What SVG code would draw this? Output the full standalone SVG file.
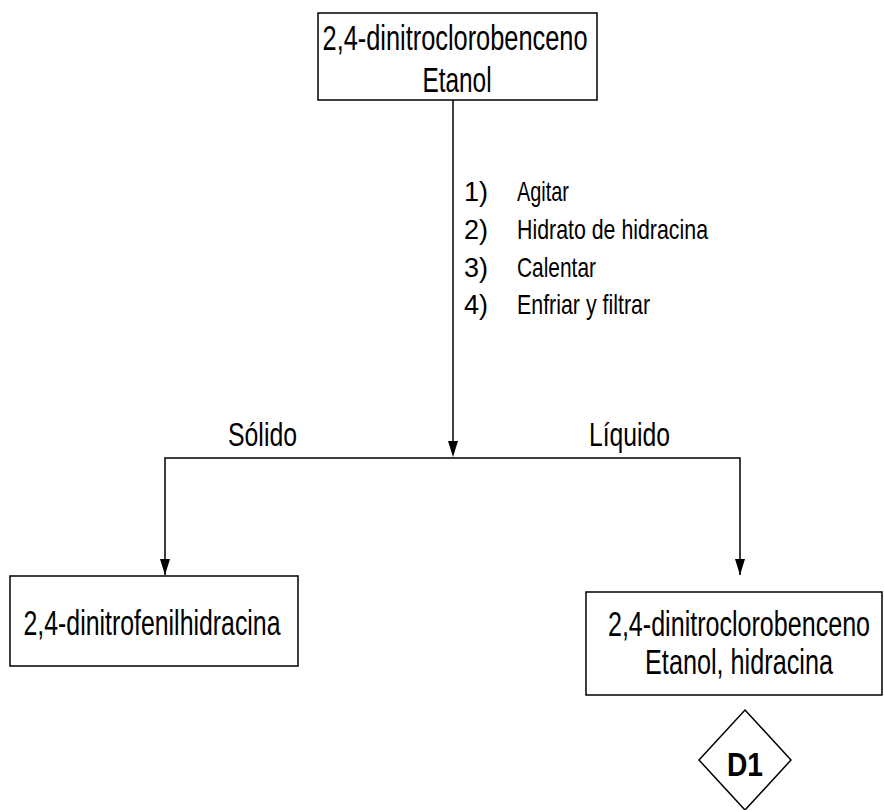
<svg xmlns="http://www.w3.org/2000/svg" width="884" height="810" viewBox="0 0 884 810">
<style>
.box{fill:#fff;stroke:#000;stroke-width:1.5}
.ln{fill:none;stroke:#000;stroke-width:1.5}
text{font-family:"Liberation Sans",Arial,sans-serif;fill:#000}
.big{font-size:35px;text-anchor:middle}
.st{font-size:28px}
.lab{font-size:33px}
.d{font-size:33px;font-weight:bold;text-anchor:middle}
</style>
<rect width="884" height="810" fill="#fff"/>
<g id="connectors">
<path d="M453,100 L453,441" class="ln"/>
<path d="M448,441 L458,441 L453,457 Z" fill="#000"/>
<path d="M165,575 L165,458 L740,458 L740,575" class="ln"/>
<path d="M160,559 L170,559 L165,575 Z" fill="#000"/>
<path d="M735,559 L745,559 L740,575 Z" fill="#000"/>
<text class="st" x="464" y="201" textLength="24" lengthAdjust="spacingAndGlyphs">1)</text>
<text class="st" x="517" y="201" textLength="52" lengthAdjust="spacingAndGlyphs">Agitar</text>
<text class="st" x="464" y="239" textLength="24" lengthAdjust="spacingAndGlyphs">2)</text>
<text class="st" x="517" y="239" textLength="191" lengthAdjust="spacingAndGlyphs">Hidrato de hidracina</text>
<text class="st" x="464" y="277" textLength="24" lengthAdjust="spacingAndGlyphs">3)</text>
<text class="st" x="517" y="277" textLength="79" lengthAdjust="spacingAndGlyphs">Calentar</text>
<text class="st" x="464" y="314" textLength="24" lengthAdjust="spacingAndGlyphs">4)</text>
<text class="st" x="517" y="314" textLength="133" lengthAdjust="spacingAndGlyphs">Enfriar y filtrar</text>
<text class="lab" x="228" y="446" textLength="69" lengthAdjust="spacingAndGlyphs">Sólido</text>
<text class="lab" x="589" y="446" textLength="81" lengthAdjust="spacingAndGlyphs">Líquido</text>
</g>
<g id="start">
<rect class="box" x="318" y="13" width="279" height="87"/>
<text class="big" transform="translate(455,50) scale(0.72,1)" textLength="368" lengthAdjust="spacingAndGlyphs">2,4-dinitroclorobenceno</text>
<text class="big" transform="translate(457,92) scale(0.72,1)" textLength="96" lengthAdjust="spacingAndGlyphs">Etanol</text>
</g>
<g id="solid">
<rect class="box" x="10" y="576" width="288" height="90"/>
<text class="big" transform="translate(152,635) scale(0.72,1)" textLength="357" lengthAdjust="spacingAndGlyphs">2,4-dinitrofenilhidracina</text>
</g>
<g id="liquid">
<rect class="box" x="586" y="592" width="296" height="103"/>
<text class="big" transform="translate(739,636) scale(0.72,1)" textLength="364" lengthAdjust="spacingAndGlyphs">2,4-dinitroclorobenceno</text>
<text class="big" transform="translate(739,674) scale(0.72,1)" textLength="261" lengthAdjust="spacingAndGlyphs">Etanol, hidracina</text>
</g>
<g id="d1">
<path class="box" d="M745,710 L791,760 L745,810 L699,760 Z"/>
<text class="d" x="745" y="776" textLength="36" lengthAdjust="spacingAndGlyphs">D1</text>
</g>
</svg>
